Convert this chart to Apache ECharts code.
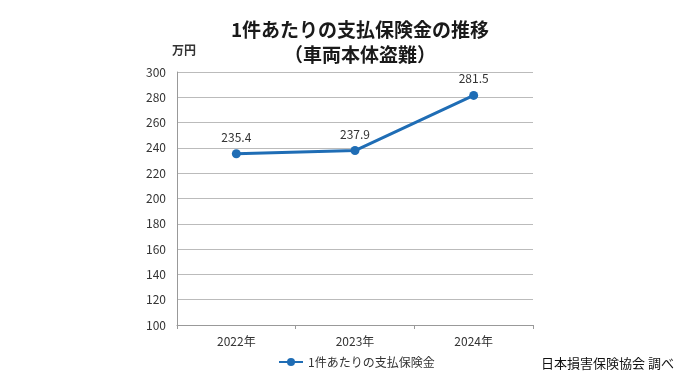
<!DOCTYPE html>
<html><head><meta charset="utf-8">
<script src="https://cdn.jsdelivr.net/npm/echarts@6/dist/echarts.min.js"></script>
<style>html,body{margin:0;padding:0;background:#fff}#c{width:680px;height:382px}</style>
</head><body><div id="c"></div>
<script>
const categories = ['2022年','2023年','2024年'];
const values = [235.4, 237.9, 281.5];
const seriesName = '1件あたりの支払保険金';
const titleText = '1件あたりの支払保険金の推移\n（車両本体盗難）';
const unitText = '万円';
const sourceText = '日本損害保険協会 調べ';

const chart = echarts.init(document.getElementById('c'));
const font = '"Noto Sans CJK JP", "Noto Sans", sans-serif';
chart.setOption({
  backgroundColor: '#fff',
  textStyle: {fontFamily: font},
  title: {
    text: titleText, left: 355, textAlign: 'center', top: 12,
    textStyle: {fontSize: 19, fontWeight: 'bold', color: '#1a1a1a', lineHeight: 25, fontFamily: font}
  },
  graphic: [
    {type: 'text', left: 172, top: 44, style: {text: unitText, font: 'bold 12px ' + font, fill: '#333'}},
    {type: 'text', right: 6, top: 357, style: {text: sourceText, font: '13px ' + font, fill: '#111'}}
  ],
  grid: {left: 177, right: 147, top: 72, bottom: 57, containLabel: false},
  legend: {
    top: 351, left: 273, data: [seriesName],
    itemWidth: 24, itemHeight: 10, itemGap: 4,
    textStyle: {fontSize: 12, color: '#333', fontFamily: font}
  },
  xAxis: {
    type: 'category', data: categories, boundaryGap: true,
    axisLine: {lineStyle: {color: '#999', width: 1}},
    axisTick: {show: true, length: 4, lineStyle: {color: '#999'}},
    axisLabel: {fontSize: 12, color: '#333', margin: 10}
  },
  yAxis: {
    type: 'value', min: 100, max: 300, interval: 20,
    axisLine: {show: true, lineStyle: {color: '#999', width: 1}},
    axisTick: {show: false},
    axisLabel: {fontSize: 12, color: '#333', margin: 11},
    splitLine: {lineStyle: {color: '#bbb', width: 1}}
  },
  series: [{
    name: seriesName, type: 'line', data: values,
    symbol: 'circle', symbolSize: 9,
    lineStyle: {color: '#1f6db5', width: 3},
    itemStyle: {color: '#1f6db5'},
    label: {show: true, position: 'top', distance: 6, fontSize: 12, color: '#333'}
  }]
});
</script></body></html>
